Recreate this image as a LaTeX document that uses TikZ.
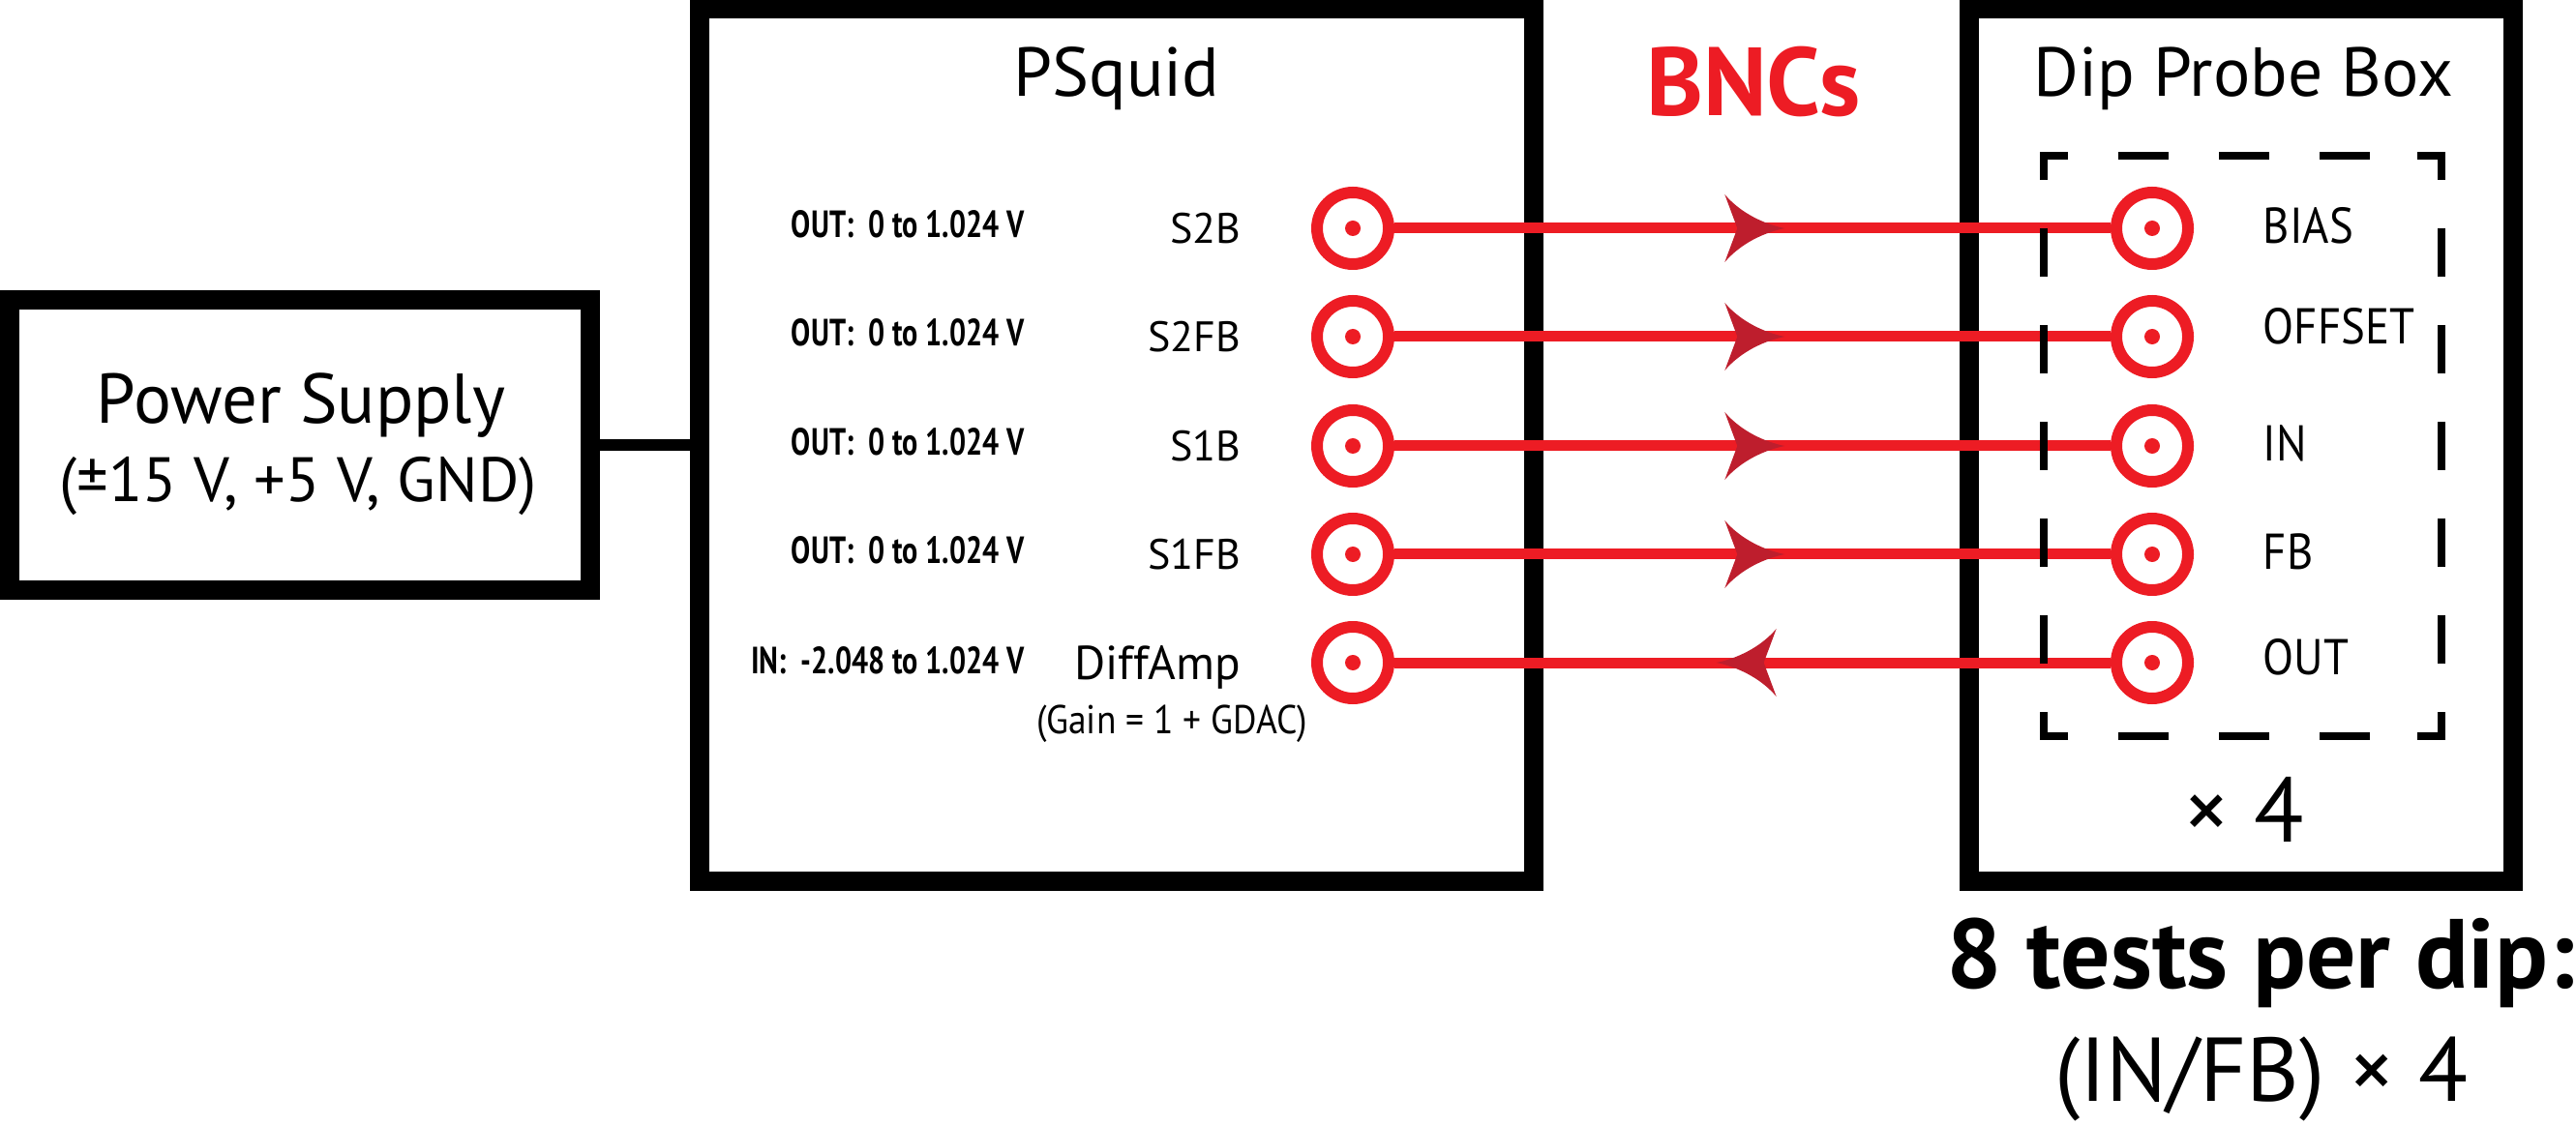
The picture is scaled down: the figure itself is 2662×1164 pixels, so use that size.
\documentclass[tikz,border=0pt]{standalone}
\usepackage{fontspec}
\setmainfont{PT Sans}
\newfontfamily\condfont[FakeStretch=0.9]{PT Sans}
\newfontfamily\condbold[FakeStretch=0.77]{PT Sans Bold}
\usetikzlibrary{decorations.markings}
\definecolor{bncred}{HTML}{ED1C24}
\definecolor{arrred}{HTML}{BE1E2D}
\newcommand\arrhead{\fill[arrred] (0,0) .. controls (-20,-4) and (-45,-15) .. (-62,-35) -- (-49,0) -- (-62,35) .. controls (-45,15) and (-20,4) .. (0,0) -- cycle;}
\tikzset{
  box/.style={draw, line width=5pt, rectangle, inner sep=0pt},
  txt/.style={inner sep=0pt, anchor=base},
  bnc/.style={circle, draw=bncred, line width=3pt, fill=white, minimum size=18.5pt, inner sep=0pt},
  sig/.style={draw=bncred, line width=2.75pt},
  fwd/.style={postaction={decorate}, decoration={markings, mark=at position #1 with {\arrhead}}},
  dbox/.style={draw, line width=2pt, line join=miter},
}
\begin{document}
\begin{tikzpicture}[x=0.25pt,y=-0.25pt]
\useasboundingbox (0,0) rectangle (2662,1164);
% boxes
\node[box, minimum width=150pt, minimum height=75pt] (ps) at (310,460) {};
\node[box, minimum width=215.5pt, minimum height=225.5pt] (psq) at (1154,460) {};
\node[box, minimum width=140.5pt, minimum height=225.5pt] (dpb) at (2316,460) {};
\draw[line width=3pt] (ps.east) -- (psq.west);
% titles
\node[txt, font=\fontsize{18.2}{22}\selectfont] (pst) at (311,438) {Power Supply};
\node[txt, font=\fontsize{16.2}{19}\selectfont] (psv) at (308,519) {(±15 V, +5 V, GND)};
\node[txt, font=\fontsize{17.9}{21}\selectfont] (psqt) at (1154,100) {PSquid};
\node[txt, font=\fontsize{17.9}{21}\selectfont] (dpbt) at (2318,100) {Dip Probe Box};
\node[txt, font=\bfseries\fontsize{25}{29}\selectfont, text=bncred] (bncs) at (1812,120) {BNCs};
% BNC lines
\foreach \i/\y in {1/236,2/348,3/461,4/573,5/685}{
  \coordinate (pL\i) at (1398,\y);
  \coordinate (pR\i) at (2224,\y);
}
\node[bnc] (L1) at (pL1) {};
\node[bnc] (L2) at (pL2) {};
\node[bnc] (L3) at (pL3) {};
\node[bnc] (L4) at (pL4) {};
\node[bnc] (L5) at (pL5) {};
\node[bnc] (R1) at (pR1) {};
\node[bnc] (R2) at (pR2) {};
\node[bnc] (R3) at (pR3) {};
\node[bnc] (R4) at (pR4) {};
\node[bnc] (R5) at (pR5) {};
\draw[sig, fwd=0.545] (L1) -- (R1);
\draw[sig, fwd=0.545] (L2) -- (R2);
\draw[sig, fwd=0.545] (L3) -- (R3);
\draw[sig, fwd=0.545] (L4) -- (R4);
\draw[sig, fwd=0.5505] (R5) -- (L5);
% dashed box
\draw[dbox] (2112,186) -- (2112,161) -- (2137,161);
\draw[dbox] (2498,161) -- (2523,161) -- (2523,186);
\draw[dbox] (2523,736) -- (2523,761) -- (2498,761);
\draw[dbox] (2137,761) -- (2112,761) -- (2112,736);
\draw[dbox, dash pattern=on 13pt off 13pt, dash phase=13pt] (2137,161) -- (2498,161);
\draw[dbox, dash pattern=on 13pt off 13pt, dash phase=13pt] (2137,761) -- (2498,761);
\draw[dbox, dash pattern=on 12.5pt off 12.5pt, dash phase=12.5pt] (2112,186) -- (2112,736);
\draw[dbox, dash pattern=on 12.5pt off 12.5pt, dash phase=12.5pt] (2523,186) -- (2523,736);
% centre dots of the BNCs
\foreach \n in {L1,L2,L3,L4,L5,R1,R2,R3,R4,R5}{
  \fill[bncred] (\n.center) circle[radius=8];
}
% left labels
\foreach \n/\t/\y in {s2b/S2B/236, s2fb/S2FB/348, s1b/S1B/461, s1fb/S1FB/573}{
  \node[txt, anchor=base east, font=\fontsize{11}{13}\selectfont] (\n) at (1283,\y+16) {\t};
  \node[txt, anchor=base east, font=\condbold\fontsize{9.8}{12}\selectfont] (\n r) at (1059,\y+10) {OUT:\ \ 0 to 1.024 V};
}
\node[txt, anchor=base east, font=\fontsize{12.3}{14}\selectfont] (diff) at (1283,702) {DiffAmp};
\node[txt, font=\condfont\fontsize{10.4}{12}\selectfont] (gain) at (1211,758) {(Gain = 1 + GDAC)};
\node[txt, anchor=base east, font=\condbold\fontsize{9.8}{12}\selectfont] (diffr) at (1059,696) {IN:\ \ -2.048 to 1.024 V};
% right labels
\node[txt, anchor=base west, font=\condfont\fontsize{13}{15}\selectfont] (bias) at (2338,252) {BIAS};
\node[txt, anchor=base west, font=\condfont\fontsize{13}{15}\selectfont] (offs) at (2338,356) {OFFSET};
\node[txt, anchor=base west, font=\condfont\fontsize{13}{15}\selectfont] (inl) at (2338,477) {IN};
\node[txt, anchor=base west, font=\condfont\fontsize{13}{15}\selectfont] (fbl) at (2338,589) {FB};
\node[txt, anchor=base west, font=\condfont\fontsize{13}{15}\selectfont] (outl) at (2338,698) {OUT};
% bottom texts
\node[txt, font=\fontsize{23.6}{28}\selectfont] (x4) at (2319,870) {× 4};
\node[txt, font=\bfseries\fontsize{25.4}{30}\selectfont] (tests) at (2336,1021) {8 tests per dip:};
\node[txt, font=\fontsize{23.4}{28}\selectfont] (infb) at (2337,1138) {(IN/FB) × 4};
\end{tikzpicture}
\end{document}
